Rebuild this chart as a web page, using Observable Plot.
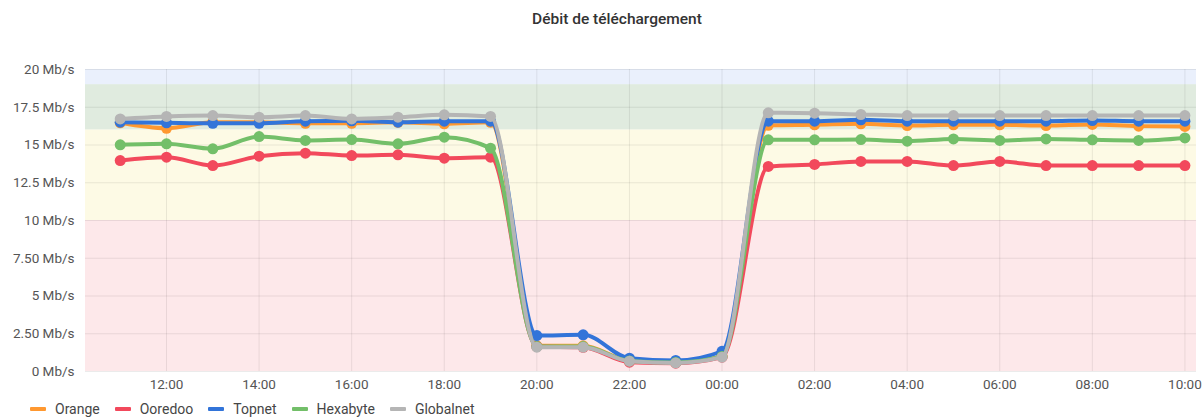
<!DOCTYPE html>
<html>
<head>
<meta charset="utf-8">
<script src="https://cdn.jsdelivr.net/npm/d3@7"></script>
<script src="https://cdn.jsdelivr.net/npm/@observablehq/plot@0.6"></script>
<style>
  html, body { margin: 0; padding: 0; background: #fff; width: 1202px; height: 417px; overflow: hidden; font-family: Roboto, sans-serif; }
  #title { position: absolute; left: 0; top: 10px; width: 1234px; text-align: center; font-size: 15.5px; font-weight: 500; color: #333; }
  #chart { position: absolute; left: 0; top: 40px; }
  #legend { position: absolute; left: 30px; top: 401px; display: flex; align-items: center; font-size: 14px; color: #464646; }
  .item { display: flex; align-items: center; margin-right: 15px; }
  .sw { width: 16px; height: 4px; border-radius: 1px; margin-right: 9px; }
</style>
</head>
<body>
<div id="title">Débit de téléchargement</div>
<div id="chart"></div>
<div id="legend"></div>
<script>
// Hours (11:00 day 1 .. 10:00 day 2, expressed as hours from midnight of day 1)
const hours = [11,12,13,14,15,16,17,18,19,20,21,22,23,24,25,26,27,28,29,30,31,32,33,34];

const seriesNames = ["Orange", "Ooredoo", "Topnet", "Hexabyte", "Globalnet"];
const seriesColors = ["#FF9830", "#F2495C", "#3274D9", "#73BF69", "#B5B5B5"];

const orange    = [16.47,16.11,16.51,16.50,16.44,16.44,16.50,16.40,16.50, 1.70,1.70,0.70,0.60,1.00, 16.30,16.34,16.40,16.29,16.34,16.34,16.29,16.36,16.25,16.23];
const ooredoo   = [13.97,14.19,13.64,14.26,14.46,14.30,14.35,14.13,14.19, 1.65,1.60,0.62,0.55,0.95, 13.58,13.71,13.91,13.91,13.64,13.91,13.64,13.64,13.64,13.64];
const topnet    = [16.51,16.47,16.44,16.44,16.58,16.60,16.51,16.58,16.58, 2.38,2.43,0.88,0.73,1.34, 16.58,16.58,16.67,16.58,16.58,16.58,16.58,16.62,16.58,16.58];
const hexabyte  = [15.01,15.08,14.75,15.56,15.30,15.36,15.08,15.52,14.79, 1.65,1.65,0.70,0.60,1.00, 15.34,15.34,15.36,15.25,15.40,15.30,15.40,15.34,15.30,15.47];
const globalnet = [16.73,16.89,16.95,16.84,16.95,16.73,16.84,17.00,16.89, 1.61,1.61,0.68,0.57,0.95, 17.13,17.11,17.02,16.95,16.95,16.95,16.95,16.95,16.95,16.95];
const seriesValues = [orange, ooredoo, topnet, hexabyte, globalnet];

// Threshold bands
const bandLow   = [0, 10, 16, 19];
const bandHigh  = [10, 16, 19, 20];
const bandColor = ["#FDE8EA", "#FDFAE5", "#E0EBDF", "#EAF0FC"];

// Axes
const yTicks = [0, 2.5, 5, 7.5, 10, 12.5, 15, 17.5, 20];
const yTickLabels = ["0 Mb/s", "2.50 Mb/s", "5 Mb/s", "7.50 Mb/s", "10 Mb/s", "12.5 Mb/s", "15 Mb/s", "17.5 Mb/s", "20 Mb/s"];
const xTicks = [12,14,16,18,20,22,24,26,28,30,32,34];
const xTickLabels = ["12:00","14:00","16:00","18:00","20:00","22:00","00:00","02:00","04:00","06:00","08:00","10:00"];
const xDomain = [10.25, 34.25];

const bands = bandLow.map((lo, i) => ({lo, hi: bandHigh[i], color: bandColor[i]}));

const marks = [];
bands.forEach(b => marks.push(Plot.rect([b], {y1: "lo", y2: "hi", x1: xDomain[0], x2: xDomain[1], fill: b.color})));
marks.push(Plot.gridY(yTicks, {stroke: "#000", strokeOpacity: 0.08}));
marks.push(Plot.gridX(xTicks, {stroke: "#000", strokeOpacity: 0.08}));
seriesNames.forEach((name, s) => {
  const data = hours.map((h, i) => ({h, v: seriesValues[s][i]}));
  marks.push(Plot.line(data, {x: "h", y: "v", stroke: seriesColors[s], strokeWidth: 4, curve: "monotone-x"}));
  marks.push(Plot.dot(data, {x: "h", y: "v", fill: seriesColors[s], r: 5.5}));
});
marks.push(Plot.axisY(yTicks, {tickSize: 0, tickPadding: 11, label: null, tickFormat: v => yTickLabels[yTicks.indexOf(v)], fontSize: 13.5, fill: "#555"}));
marks.push(Plot.axisX(xTicks, {tickSize: 0, tickPadding: 8, label: null, tickFormat: v => xTickLabels[xTicks.indexOf(v)], fontSize: 13.5, fill: "#555"}));

const chart = Plot.plot({
  width: 1202,
  height: 356,
  marginLeft: 85,
  marginRight: 6,
  marginTop: 29,
  marginBottom: 25,
  style: {fontFamily: "Roboto, sans-serif", background: "transparent", overflow: "visible"},
  x: {domain: xDomain, axis: null, label: null},
  y: {domain: [0, 20], axis: null, label: null},
  marks
});
document.getElementById("chart").appendChild(chart);

const legend = document.getElementById("legend");
seriesNames.forEach((name, s) => {
  const it = document.createElement("div");
  it.className = "item";
  const sw = document.createElement("div");
  sw.className = "sw";
  sw.style.background = seriesColors[s];
  const t = document.createElement("span");
  t.textContent = name;
  it.appendChild(sw); it.appendChild(t);
  legend.appendChild(it);
});
</script>
</body>
</html>
